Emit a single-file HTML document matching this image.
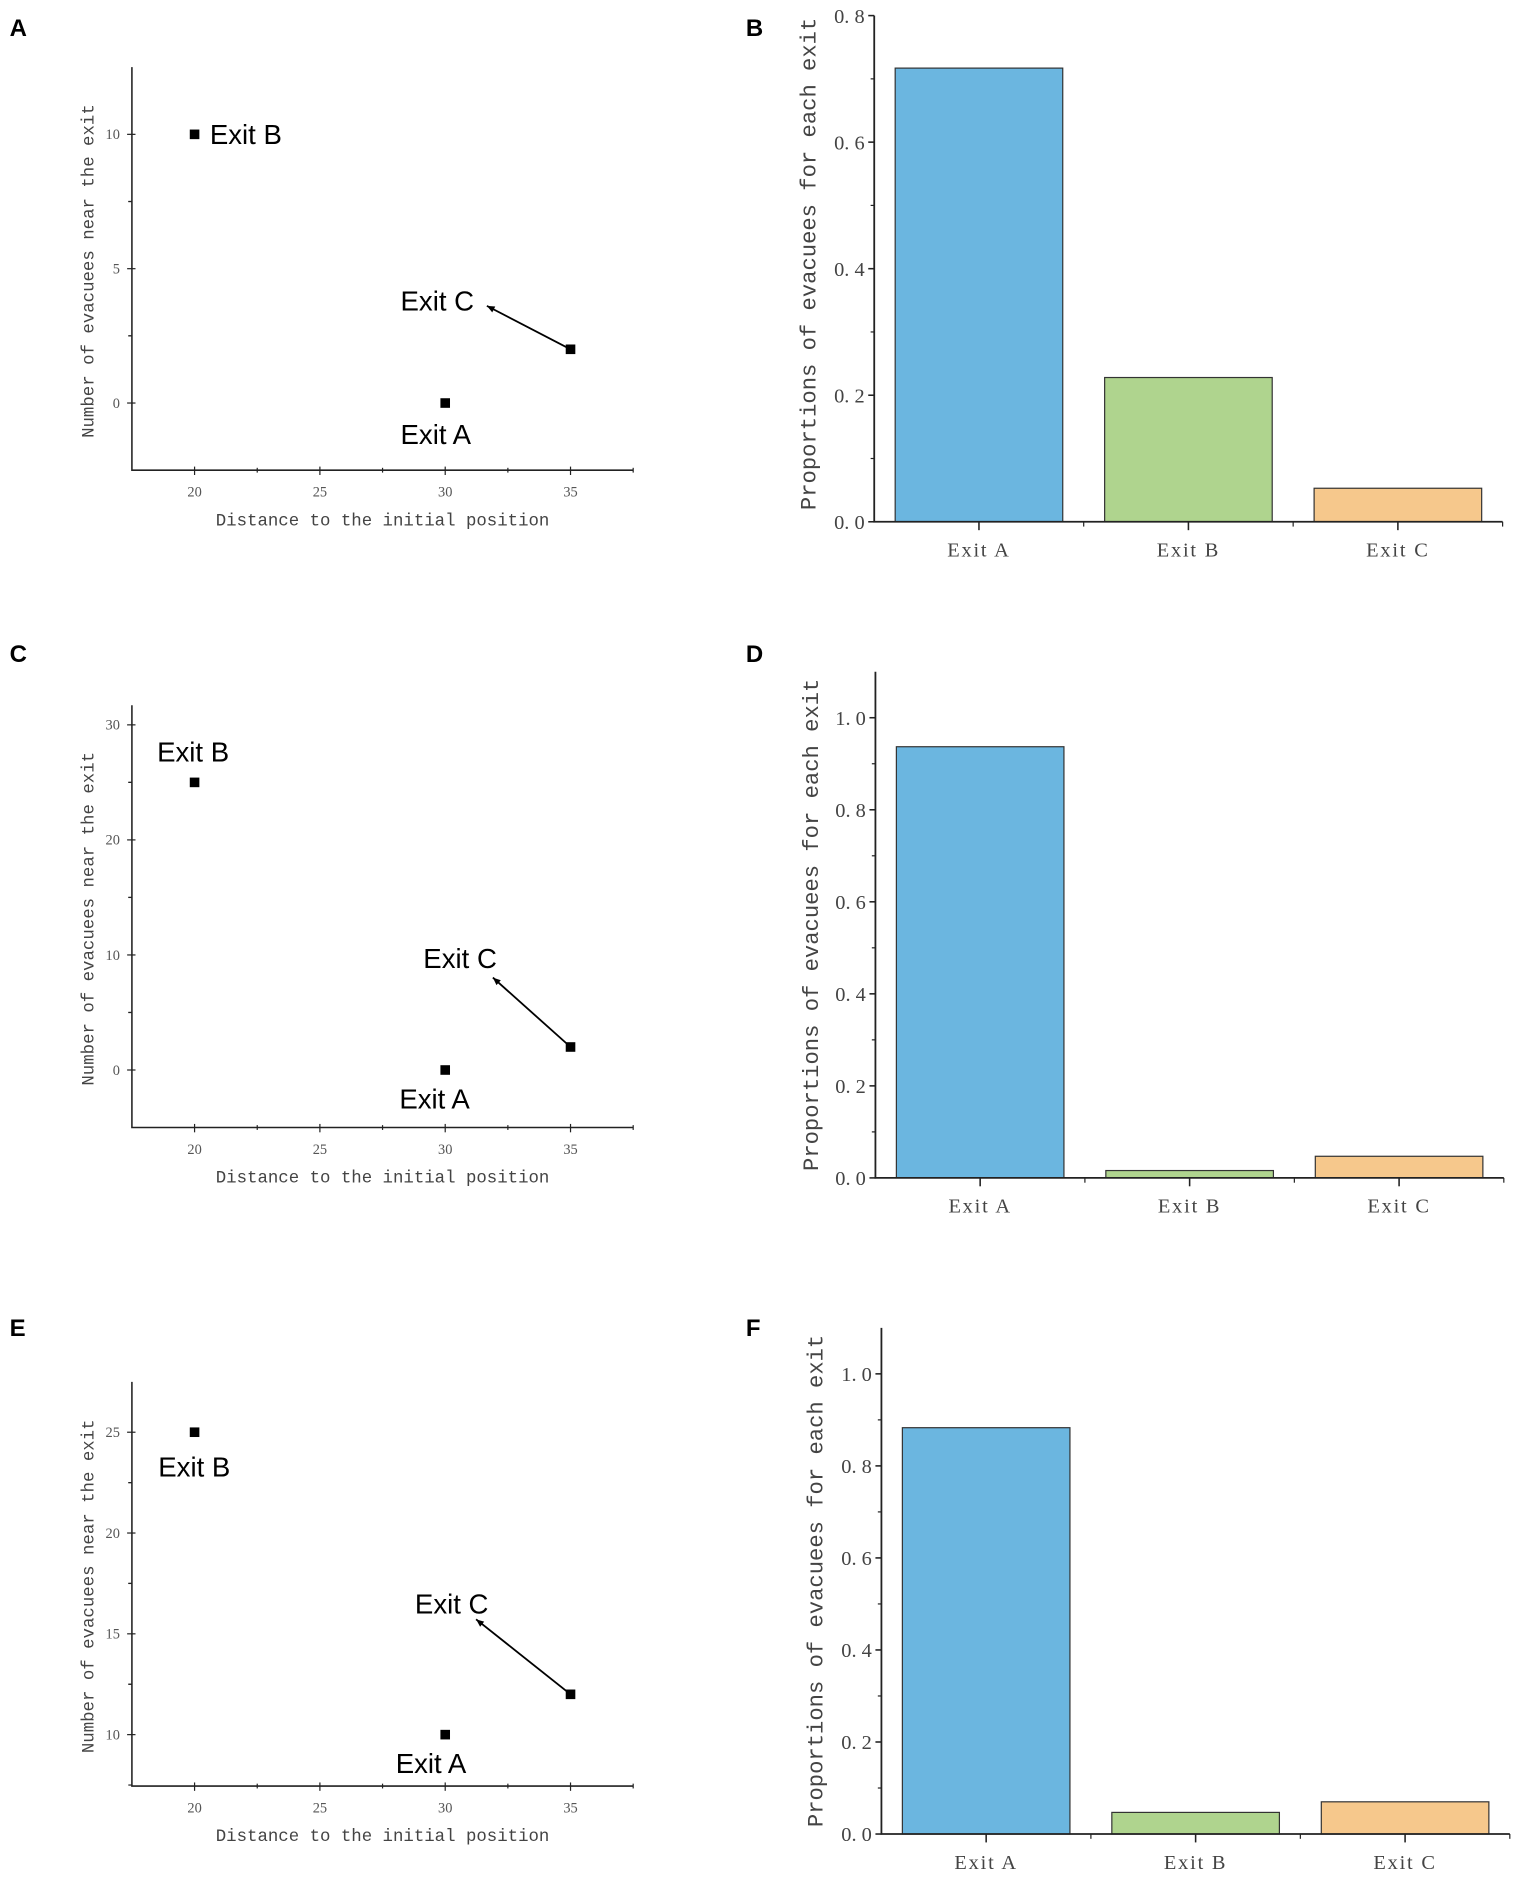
<!DOCTYPE html>
<html><head><meta charset="utf-8"><style>
html,body{margin:0;padding:0;background:#fff;width:1535px;height:1900px;overflow:hidden}
svg{display:block}
</style></head><body>
<svg id="fig" width="1535" height="1900" viewBox="0 0 1280 1584" preserveAspectRatio="none" xmlns="http://www.w3.org/2000/svg"></svg>
<script>
// ---- data ----
const exitNames = ["Exit A", "Exit B", "Exit C"];
const scatterDistances = [30, 20, 35];
const countsA = [0, 10, 2];
const countsC = [0, 25, 2];
const countsE = [10, 25, 12];
const proportionsB = [0.717, 0.228, 0.053];
const proportionsD = [0.937, 0.016, 0.047];
const proportionsF = [0.883, 0.047, 0.070];
const scatterXTicks = [20, 25, 30, 35];
const yTicksA = [0, 5, 10];
const yTicksC = [0, 10, 20, 30];
const yTicksE = [10, 15, 20, 25];
const barTicksB = [0, 0.2, 0.4, 0.6, 0.8];
const barTicksDF = [0, 0.2, 0.4, 0.6, 0.8, 1.0];

const NS = "http://www.w3.org/2000/svg";
const svg = document.getElementById("fig");
function mk(tag, attrs, parent, text) {
  const e = document.createElementNS(NS, tag);
  for (const k in attrs) e.setAttribute(k, attrs[k]);
  if (text !== undefined) e.textContent = text;
  (parent || svg).appendChild(e);
  return e;
}
const MONO = '"Liberation Mono", monospace';
const SERIF = '"Liberation Serif", serif';
const SANS = '"Liberation Sans", sans-serif';

function panelLabel(t, x, y) {
  const e = mk("text", {x: x, y: y, "font-family": SANS, "font-weight": "bold", "font-size": 20, fill: "#000"}, svg, t);
  
  
}

function scatter(id, cfg, ys, yticks) {
  const g = mk("g", {});
  
  
  const x0 = 110, x1 = 528, xd0 = 17.5, xd1 = 37.5;
  const sx = v => x0 + (v - xd0) / (xd1 - xd0) * (x1 - x0);
  const sy = v => cfg.bot + (v - cfg.yd0) / (cfg.yd1 - cfg.yd0) * (cfg.top - cfg.bot);
  const ax = mk("path", {d: `M${x0} ${cfg.top}V${cfg.bot}H${x1}`, stroke: "#222", "stroke-width": 1.3, fill: "none"}, g);
  
  
  scatterXTicks.forEach(t => {
    const X = sx(t);
    mk("line", {x1: X, x2: X, y1: cfg.bot - 3, y2: cfg.bot + 4, stroke: "#222"}, g);
    const l = mk("text", {x: X, y: cfg.bot + 22, "text-anchor": "middle", "font-family": SERIF, "font-size": 12, fill: "#555"}, g, String(t));
    
    
    mk("line", {x1: sx(t + 2.5), x2: sx(t + 2.5), y1: cfg.bot - 2, y2: cfg.bot + 2, stroke: "#222"}, g);
  });
  const step = yticks[1] - yticks[0];
  yticks.forEach(t => {
    const Y = sy(t);
    mk("line", {x1: x0 - 4, x2: x0 + 3, y1: Y, y2: Y, stroke: "#222"}, g);
    const l = mk("text", {x: x0 - 10, y: Y + 4, "text-anchor": "end", "font-family": SERIF, "font-size": 12, fill: "#555"}, g, String(t));
    
    
    [t - step / 2, t + step / 2].forEach(m => {
      if (m > cfg.yd0 && m < cfg.yd1) mk("line", {x1: x0 - 3, x2: x0, y1: sy(m), y2: sy(m), stroke: "#222"}, g);
    });
  });
  const xt = mk("text", {x: 319, y: cfg.bot + 46, "text-anchor": "middle", "font-family": MONO, "font-size": 14.5, fill: "#444"}, g, "Distance to the initial position");
  
  
  const cy = (cfg.top + cfg.bot) / 2 + 2;
  const yt = mk("text", {x: 78, y: cy, transform: `rotate(-90 78 ${cy})`, "text-anchor": "middle", "font-family": MONO, "font-size": 14.5, fill: "#444"}, g, "Number of evacuees near the exit");
  
  
  scatterDistances.forEach((d, i) => {
    const X = sx(d), Y = sy(ys[i]);
    const p = mk("rect", {x: X - 4, y: Y - 4, width: 8, height: 8, fill: "#000"}, g);
    
    
    const lp = cfg.labels[i];
    const t = mk("text", {x: lp[0], y: lp[1], "font-family": SANS, "font-size": 23, fill: "#000"}, g, exitNames[i]);
    
    
  });
  const X = sx(scatterDistances[2]), Y = sy(ys[2]);
  const [ex, ey] = cfg.arrowEnd;
  const ar = mk("line", {x1: X, y1: Y, x2: ex, y2: ey, stroke: "#000", "stroke-width": 1.5}, g);
  
  
  const ang = Math.atan2(ey - Y, ex - X), L = 7;
  mk("path", {d: `M${ex} ${ey}L${ex - L * Math.cos(ang - 0.4)} ${ey - L * Math.sin(ang - 0.4)}L${ex - L * Math.cos(ang + 0.4)} ${ey - L * Math.sin(ang + 0.4)}Z`, fill: "#000"}, g);
}

function bars(id, cfg, vals, ticks) {
  const g = mk("g", {});
  
  
  const x0 = cfg.x0, x1 = x0 + 524;
  const sy = v => cfg.bot - v / cfg.ymax * (cfg.bot - cfg.top);
  const band = (x1 - x0) / 3;
  const colors = ["#6bb6e0", "#afd48e", "#f6c88c"];
  vals.forEach((v, i) => {
    const cx = x0 + band * (i + 0.5), w = band * 0.8;
    const r = mk("rect", {x: cx - w / 2, y: sy(v), width: w, height: cfg.bot - sy(v), fill: colors[i], stroke: "#333", "stroke-width": 1}, g);
    
    
    mk("line", {x1: cx, x2: cx, y1: cfg.bot, y2: cfg.bot + 7, stroke: "#222", "stroke-width": 1.3}, g);
    mk("line", {x1: x0 + band * (i + 1), x2: x0 + band * (i + 1), y1: cfg.bot, y2: cfg.bot + 4, stroke: "#222"}, g);
    const l = mk("text", {x: cx, y: cfg.bot + 29, "text-anchor": "middle", "font-family": SERIF, "font-size": 17, "letter-spacing": 1.5, fill: "#444"}, g, exitNames[i]);
    
    
  });
  const ax = mk("path", {d: `M${x0} ${cfg.top}V${cfg.bot}H${x1}`, stroke: "#222", "stroke-width": 1.5, fill: "none"}, g);
  
  
  ticks.forEach(t => {
    const Y = sy(t);
    mk("line", {x1: x0 - 5, x2: x0, y1: Y, y2: Y, stroke: "#222", "stroke-width": 1.3}, g);
    const m = t + 0.1;
    if (m < cfg.ymax) mk("line", {x1: x0 - 3, x2: x0, y1: sy(m), y2: sy(m), stroke: "#222"}, g);
    const l = mk("text", {x: x0 - 8, y: Y + 6, "text-anchor": "end", "font-family": SERIF, "font-size": 17, fill: "#444"}, g, t.toFixed(1).replace('.', '. '));
    
    
  });
  const cy = cfg.titleY;
  const yt = mk("text", {x: cfg.titleX, y: cy, transform: `rotate(-90 ${cfg.titleX} ${cy})`, "text-anchor": "middle", "font-family": MONO, "font-size": 18.5, fill: "#444"}, g, "Proportions of evacuees for each exit");
  
  
}

panelLabel("A", 8, 30); panelLabel("B", 622, 30);
panelLabel("C", 8, 552); panelLabel("D", 622, 552);
panelLabel("E", 8, 1114); panelLabel("F", 622, 1114);

scatter("a", {top: 56, bot: 392, yd0: -2.5, yd1: 12.5, labels: [[334, 370], [175, 120], [334, 259]], arrowEnd: [406, 255]}, countsA, yTicksA);
scatter("c", {top: 588, bot: 940, yd0: -5, yd1: 31.7, labels: [[333, 924], [131, 635], [353, 807]], arrowEnd: [411, 815]}, countsC, yTicksC);
scatter("e", {top: 1152, bot: 1489, yd0: 7.45, yd1: 27.5, labels: [[330, 1478], [132, 1231], [346, 1345]], arrowEnd: [397, 1350]}, countsE, yTicksE);

bars("b", {x0: 729, top: 13, bot: 435, ymax: 0.8, titleX: 680, titleY: 220}, proportionsB, barTicksB);
bars("d", {x0: 730, top: 560, bot: 982, ymax: 1.1, titleX: 682, titleY: 771}, proportionsD, barTicksDF);
bars("f", {x0: 735, top: 1107, bot: 1529, ymax: 1.1, titleX: 686, titleY: 1318}, proportionsF, barTicksDF);
</script>
</body></html>
